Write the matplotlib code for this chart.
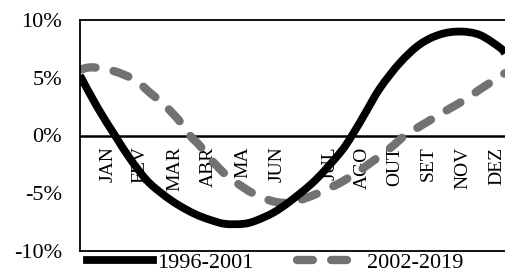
import matplotlib
matplotlib.use('Agg')
import matplotlib.pyplot as plt
from matplotlib.path import Path
from matplotlib.patches import PathPatch
from matplotlib.lines import Line2D

# position along the axis (0 = left frame, 12 = right frame)
black_x = [0.000, 0.480, 0.988, 1.412, 1.892, 2.344, 2.767, 3.247, 3.671, 4.094,
           4.602, 4.941, 5.449, 5.929, 6.635, 7.341, 7.680, 8.047, 8.471, 9.035,
           9.600, 10.165, 10.729, 11.294, 11.859, 12.000]
black_y = [5.2, 2.5, 0.0, -2.0, -3.9, -5.1, -6.0, -6.8, -7.3, -7.65,
           -7.65, -7.4, -6.7, -5.7, -3.9, -1.5, 0.0, 1.9, 4.1, 6.3,
           7.9, 8.75, 9.0, 8.7, 7.6, 7.1]

gray_x = [0.000, 0.339, 0.932, 1.553, 1.976, 2.400, 2.824, 3.106, 3.388, 3.671,
          4.151, 4.518, 4.885, 5.449, 5.929, 6.438, 6.861, 7.341, 7.765, 8.188,
          8.753, 9.176, 9.600, 10.362, 10.927, 11.294, 11.802, 12.000]
gray_y = [5.7, 5.9, 5.6, 4.8, 3.7, 2.6, 1.2, 0.0, -0.9, -2.0,
          -3.5, -4.3, -5.0, -5.7, -5.8, -5.35, -4.8, -4.1, -3.3, -2.4,
          -1.1, 0.0, 0.8, 2.2, 3.2, 4.0, 5.0, 5.4]

months = ['JAN', 'FEV', 'MAR', 'ABR', 'MA', 'JUN', 'JUL', 'AGO', 'OUT', 'SET', 'NOV', 'DEZ']
month_pos = [0.79, 1.69, 2.68, 3.61, 4.60, 5.56, 7.06, 7.96, 8.89, 9.83, 10.81, 11.77]

y_ticks = [-10, -5, 0, 5, 10]
series_names = ['1996-2001', '2002-2019']


def smooth_path(xs, ys):
    # catmull-rom through the read points, drawn as cubic bezier segments
    points = list(zip(xs, ys))
    vertices = [points[0]]
    codes = [Path.MOVETO]
    for i in range(len(points) - 1):
        p0 = points[max(i - 1, 0)]
        p1 = points[i]
        p2 = points[i + 1]
        p3 = points[min(i + 2, len(points) - 1)]
        c1 = (p1[0] + (p2[0] - p0[0]) / 6, p1[1] + (p2[1] - p0[1]) / 6)
        c2 = (p2[0] - (p3[0] - p1[0]) / 6, p2[1] - (p3[1] - p1[1]) / 6)
        vertices += [c1, c2, p2]
        codes += [Path.CURVE4] * 3
    return Path(vertices, codes)


plt.rcParams['font.family'] = ['Liberation Serif', 'DejaVu Serif']

figure = plt.figure(figsize=(5.05, 2.74), dpi=100)
axes = figure.add_axes([80 / 505, 1 - 251 / 274, 425 / 505, 231 / 274])

gray = '#767171'
gray_dashes = (0, (1.9, 2.2))
axes.add_patch(PathPatch(smooth_path(black_x, black_y), fill=False, edgecolor='black',
                         linewidth=5.6, capstyle='butt', zorder=3))
axes.add_patch(PathPatch(smooth_path(gray_x, gray_y), fill=False, edgecolor=gray,
                         linewidth=6.0, linestyle=gray_dashes, capstyle='round', zorder=2))

axes.axhline(0, color='black', linewidth=1.8, zorder=1)

for label, pos in zip(months, month_pos):
    axes.text(pos, -0.95, label, rotation=90, ha='center', va='top', fontsize=14, zorder=0)

axes.set_xlim(0, 12)
axes.set_ylim(-10, 10)
axes.set_xticks([])
axes.set_yticks(y_ticks)
axes.set_yticklabels(['%d%%' % v for v in y_ticks], fontsize=16)
axes.tick_params(axis='y', length=0, pad=13)
for spine in axes.spines.values():
    spine.set_linewidth(1.3)
axes.spines['right'].set_visible(False)

handles = [Line2D([], [], color='black', linewidth=5.6),
           Line2D([], [], color=gray, linewidth=6.0, linestyle=gray_dashes, dash_capstyle='round')]
figure.legend(handles, series_names, loc='center', bbox_to_anchor=(0.545, 0.042), ncol=2,
              frameon=False, fontsize=16, handlelength=3.0, handletextpad=0.15,
              columnspacing=2.0, borderpad=0, borderaxespad=0)

figure.savefig('out.png', dpi=100)
